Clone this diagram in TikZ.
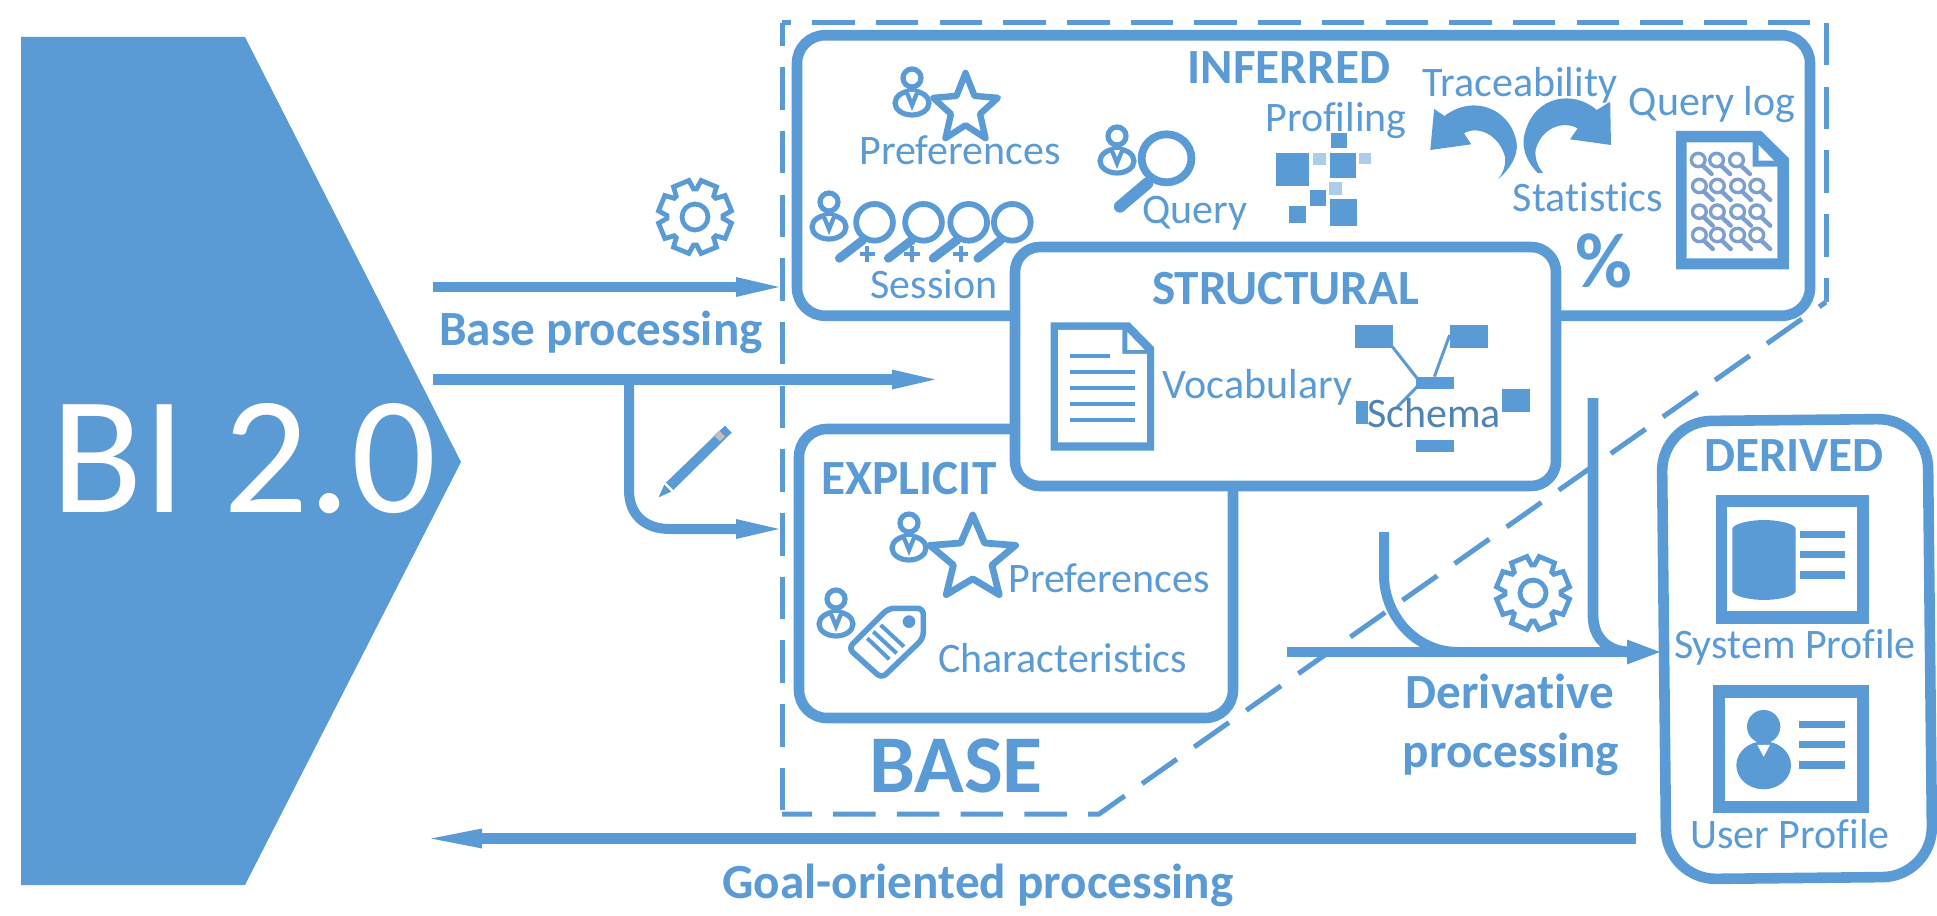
\documentclass[tikz,border=0pt]{standalone}
\usepackage{fontspec}
\setmainfont[Ligatures=NoCommon]{Carlito}
\usetikzlibrary{arrows.meta}
\definecolor{blu}{HTML}{5B9BD5}
\definecolor{lightblu}{HTML}{ADCCE9}
\definecolor{grayblu}{HTML}{7C9FD0}
\tikzset{
 txt/.style={font=\fontsize{21pt}{25pt}\selectfont,text=blu,inner sep=0pt,anchor=base},
 btxt/.style={font=\fontsize{24.6pt}{28pt}\bfseries\selectfont,text=blu,inner sep=0pt,anchor=base},
 panel/.style={draw=blu,line width=5.3pt,rounded corners=14pt,inner sep=0pt},
 frame/.style={draw=blu,line width=2.5pt,dash pattern=on 21.25pt off 10.6pt},
 conn/.style={draw=blu,line width=5.4pt},
 head/.style={-{Triangle[length=21.5pt,width=10pt,line width=0pt]}},
 icon/.style={draw=blu,line width=2.6pt},
 zz/.style={xscale=.3333,yscale=.3333},
 zw/.style={xscale=.3827,yscale=.3333},
}
\newcommand\personicon[2]{\begin{scope}[shift={(#1,#2)}]
 \draw[icon,fill=white] (0,36) ellipse [x radius=17,y radius=12];
 \fill[blu] (-8,24) -- (8,24) -- (0,44) -- cycle;
 \fill[white] (-3,25) -- (3,25) -- (0,32) -- cycle;
 \draw[icon,fill=white] (0,11) circle [radius=9];
\end{scope}}
\newcommand\staricon[5]{\begin{scope}[shift={(#1,#2)},xscale=#3,yscale=#4]
 \draw[draw=blu,line width=#5,line join=round,fill=white] (0,-1) -- (.265,-.364) -- (.951,-.309) -- (.428,.139) -- (.588,.809) -- (0,.45) -- (-.588,.809) -- (-.428,.139) -- (-.951,-.309) -- (-.265,-.364) -- cycle;
\end{scope}}
\newcommand\gearicon[2]{\begin{scope}[shift={(#1,#2)}]
 \draw[icon,line width=2.4pt,line join=miter] (9.5:37) \foreach \a in {0,45,...,315} { -- (\a+9.5:37) -- (\a+35.5:37) -- (\a+42:28) -- (\a+48:28) } -- cycle;
 \draw[icon,line width=2.4pt] (0,0) circle [radius=13];
\end{scope}}
\begin{document}
\begin{tikzpicture}[x=.5pt,y=-.5pt]
\useasboundingbox (0,0) rectangle (1937,915);

% BI 2.0 block
\fill[blu] (21,37) -- (245,37) -- (461,462) -- (245,885) -- (21,885) -- cycle;
\node[inner sep=0pt,anchor=base,text=white,font=\fontsize{84pt}{90pt}\selectfont] (bi) at (244,512) {BI 2.0};

% dashed frame
\coordinate (ftl) at (782,23);
\coordinate (ftr) at (1826,23);
\coordinate (frd) at (1826,302);
\coordinate (fbd) at (1099,814);
\coordinate (fbl) at (782,814);
\draw[frame,dash phase=16.75pt] (ftl) -- (ftr);
\draw[frame] (ftr) -- (frd);
\draw[frame,dash phase=6.25pt] (fbl) -- (fbd) -- (frd);
\draw[frame,dash phase=30pt] (fbl) -- (ftl);

% panels
\node[panel,minimum width=506.5pt,minimum height=140.25pt] (inferred) at (1303.5,175.5) {};
\node[panel,minimum width=217pt,minimum height=144.5pt] (explicit) at (1016,573.5) {};
\node[panel,fill=white,minimum width=270.5pt,minimum height=119.5pt,rounded corners=12.5pt] (structural) at (1285.5,366.5) {};
\node[panel,rotate=.6,minimum width=133pt,minimum height=229pt,rounded corners=25pt] (derived) at (1797,649) {};

% connectors
\coordinate (a1s) at (433,287); \coordinate (a1e) at (779,287);
\coordinate (a2s) at (433,379.5); \coordinate (a2e) at (935,379.5);
\coordinate (b0) at (629,380); \coordinate (b1) at (629,490); \coordinate (b2) at (670,529); \coordinate (b3) at (779,529);
\coordinate (d1s) at (1287,652); \coordinate (d1e) at (1660,652);
\coordinate (c1) at (1384,532); \coordinate (c2) at (1384,575); \coordinate (c3) at (1458,652);
\coordinate (e1) at (1593,398); \coordinate (e2) at (1593,615); \coordinate (e3) at (1630,652);
\coordinate (g1) at (1636,838.5); \coordinate (g2) at (431,838.5);
\draw[conn,head] (a1s) -- (a1e);
\draw[conn,line width=5.8pt,head] (a2s) -- (a2e);
\draw[conn,line width=5pt,head] (b0) -- (b1) .. controls (629,515) and (645,529) .. (b2) -- (b3);
\draw[conn,line width=5pt] (c1) -- (c2) .. controls (1384,615) and (1415,652) .. (c3);
\draw[conn] (e1) -- (e2) .. controls (1593,640) and (1610,652) .. (e3);
\draw[conn,-{Triangle[length=16.5pt,width=12.5pt,line width=0pt]}] (d1s) -- (d1e);
\draw[conn,-{Triangle[length=25.5pt,width=10pt,line width=0pt]}] (g1) -- (g2);

% gears and pencil
\gearicon{695}{217}
\gearicon{1533}{593}
\begin{scope}[shift={(420,160)},zz]
 \fill[blu] (915,797) -- (935,818) -- (760,990) -- (738,968) -- cycle;
 \fill[blu] (733,974) -- (754,995) -- (716,1012) -- cycle;
 \fill[gray!50] (882,826) -- (897,811) -- (915,829) -- (900,844) -- cycle;
\end{scope}

% INFERRED content
\node[btxt] (tinf) at (1289,84) {INFERRED};
\personicon{912}{67}
\staricon{965.5}{109}{34}{36}{3.2pt}
\node[txt] (tpref) at (960,164) {Preferences};
\node[txt] (tprof) at (1336,132) {Profiling};
\personicon{1117}{125}
\begin{scope}[shift={(780,10)},zw]
 \draw[blu,line width=3.9pt] (1010,445) circle [x radius=65,y radius=72];
 \draw[blu,line width=6pt,line cap=round] (960,520) -- (888,590);
\end{scope}
\node[txt] (tquery) at (1195,223) {Query};
\personicon{829}{191}
\begin{scope}[shift={(780,10)},zw]
 \foreach \cx/\ex in {247/155,375/283,493/400,607/517} {
  \draw[blu,line width=2.9pt] (\cx,637) ellipse [x radius=48,y radius=55];
  \draw[blu,line width=4.4pt,line cap=round] (\cx-30,690) -- (\ex,745);
 }
 \foreach \px in {228,345,472} {
  \draw[blu,line width=2pt] (\px-20,733) -- (\px+20,733) (\px,709) -- (\px,757);
 }
\end{scope}
\node[txt] (tsess) at (934,298) {Session};
% profiling squares
\begin{scope}[shift={(780,10)},zw]
 \foreach \xa/\xb/\ya/\yb in {1295/1383/428/527,1436/1505/428/505,1440/1481/370/415,1385/1427/540/587,1330/1374/587/638,1436/1508/566/648}
  \fill[blu] (\xa,\ya) rectangle (\xb,\yb);
 \foreach \xa/\xb/\ya/\yb in {1393/1427/428/464,1513/1545/428/462,1435/1469/516/555}
  \fill[lightblu] (\xa,\ya) rectangle (\xb,\yb);
\end{scope}
\node[txt] (ttrace) at (1520,97) {Traceability};
\node[txt] (tqlog) at (1712,116) {Query log};
\node[txt] (tstat) at (1588,211) {Statistics};
\node[btxt,font=\fontsize{39pt}{42pt}\bfseries\selectfont] (tpct) at (1604,287) {\%};
\begin{scope}[shift={(1260,10)},zw]
 % curved arrows
 \fill[blu] (622,508) .. controls (665,465) and (678,420) .. (668,385) .. controls (650,300) and (560,250) .. (482,318) -- (455,297) -- (445,420) -- (552,403) -- (533,370) .. controls (570,345) and (625,375) .. (640,440) .. controls (643,465) and (635,490) .. (622,508) -- cycle;
 \fill[blu] (740,488) -- (727,490) .. controls (690,450) and (682,400) .. (693,365) .. controls (720,255) and (820,240) .. (880,300) -- (915,275) -- (917,405) -- (810,388) -- (830,355) .. controls (790,330) and (735,355) .. (720,420) .. controls (718,445) and (725,470) .. (740,488) -- cycle;
 % query log page
 \fill[blu] (1087,363) -- (1310,363) -- (1382,445) -- (1382,778) -- (1087,778) -- cycle;
 \fill[white] (1115,397) -- (1287,397) -- (1287,470) -- (1352,470) -- (1352,745) -- (1115,745) -- cycle;
 \fill[white] (1303,405) -- (1343,452) -- (1303,452) -- cycle;
 \foreach \cx/\cy in {1145/450,1193/450,1245/450,1148/528,1195/528,1248/528,1298/528,1148/605,1195/605,1248/605,1298/605,1148/675,1195/675,1248/675,1298/675} {
  \draw[grayblu,line width=1.7pt] (\cx,\cy) ellipse [x radius=18,y radius=20];
  \draw[grayblu,line width=2.2pt,line cap=round] (\cx+12,\cy+17) -- (\cx+35,\cy+42);
 }
\end{scope}

% STRUCTURAL content
\node[btxt] (tstruct) at (1285.5,304) {STRUCTURAL};
\begin{scope}[shift={(1000,240)},zw]
 \fill[blu] (132,247) -- (338,247) -- (403,322) -- (403,632) -- (132,632) -- cycle;
 \fill[white] (152,270) -- (320,270) -- (320,342) -- (384,342) -- (384,607) -- (152,607) -- cycle;
 \fill[white] (333,277) -- (378,330) -- (333,330) -- cycle;
 \draw[blu,line width=2pt] (183,348) -- (288,348) (183,397) -- (352,397) (183,445) -- (352,445) (183,493) -- (352,493) (183,541) -- (352,541);
 \foreach \xa/\xb/\ya/\yb in {928/1028/255/325,1177/1275/255/325,1087/1185/410/447,930/962/482/553,1312/1385/447/517,1087/1185/600/637}
  \fill[blu] (\xa,\ya) rectangle (\xb,\yb);
 \draw[blu,line width=1.5pt] (1025,320) -- (1090,415) (1175,285) -- (1135,410) (1090,440) -- (1035,505);
\end{scope}
\node[txt] (tvoc) at (1257.5,398) {Vocabulary};
\node[txt,text=blu!85!black] (tschema) at (1434,427) {Schema};

% EXPLICIT content
\node[btxt] (texp) at (909,494) {EXPLICIT};
\staricon{972.7}{559}{45}{44}{3.4pt}
\personicon{909}{512}
\node[txt] (tpref2) at (1109,592) {Preferences};
\personicon{836}{588}
\begin{scope}[shift={(780,420)},zz]
 \draw[blu,line width=2.8pt,rounded corners=3pt,fill=white] (205,685) -- (325,565) -- (430,565) -- (430,655) -- (305,775) -- cycle;
 \fill[blu] (387,605) circle [radius=19];
 \draw[blu,line width=2pt] (262,655) -- (328,718) (280,635) -- (350,700) (302,615) -- (372,680);
\end{scope}
\node[txt] (tchar) at (1062.7,672) {Characteristics};

\node[btxt,font=\fontsize{41pt}{44pt}\bfseries\selectfont] (tbase) at (956,792) {BASE};

% DERIVED content
\node[btxt] (tder) at (1794,471) {DERIVED};
\begin{scope}[shift={(1640,410)},zz]
 \fill[blu] (227,255) rectangle (686,642);
 \fill[white] (262,292) rectangle (651,604);
 \fill[blu] (277,355) .. controls (285,338) and (340,330) .. (372,330) .. controls (405,330) and (460,338) .. (467,355) -- (467,545) .. controls (460,562) and (405,570) .. (372,570) .. controls (340,570) and (285,562) .. (277,545) -- cycle;
 \foreach \ya/\yb in {362/385,423/445,483/507} \fill[blu] (481,\ya) rectangle (616,\yb);
 \fill[blu] (218,826) rectangle (686,1210);
 \fill[white] (254,863) rectangle (650,1172);
 \fill[blu] (371,950) circle [radius=50];
 \fill[blu] (371,1066) ellipse [x radius=82,y radius=72];
 \fill[white] (352,1005) -- (390,1005) -- (371,1040) -- cycle;
 \foreach \ya/\yb in {932/955,993/1015,1053/1076} \fill[blu] (476,\ya) rectangle (614,\yb);
\end{scope}
\node[txt] (tsys) at (1795,658) {System Profile};
\node[txt] (tusr) at (1790,848) {User Profile};

% labels
\node[btxt] (tbp) at (601,345) {Base processing};
\node[btxt] (td1) at (1510,708) {Derivative};
\node[btxt] (td2) at (1511,767) {processing};
\node[btxt] (tgo) at (978,898) {Goal-oriented processing};
\end{tikzpicture}
\end{document}
